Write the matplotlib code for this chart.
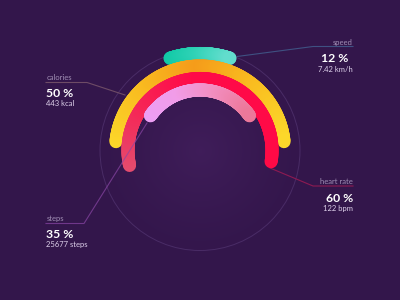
import numpy as np
import matplotlib.pyplot as plt
from matplotlib.collections import LineCollection
from matplotlib.colors import LinearSegmentedColormap, to_rgb

plt.rcParams['font.family'] = ['Lato', 'DejaVu Sans']

# données
labels = ['calories', 'speed', 'heart rate', 'steps']
percents = [50, 12, 60, 35]
details = ['443 kcal', '7.42 km/h', '122 bpm', '25677 steps']

# arcs : angle de début / fin (degrés) pour chaque mesure
arc_start = [174, 108, 192, 145]
arc_end = [6, 72, -9, 35]

# mise en page (pixels, y vers le bas)
cx, cy = 200, 150.5
radius = {'speed': 97, 'calories': 84.5, 'heart rate': 72, 'steps': 60.5}
grad = {'speed': ['#10c9a6', '#30d2b6', '#62ddcd'],
        'calories': ['#fcd82a', '#f9bd20', '#f59c1a', '#f9bd20', '#fcd82a'],
        'heart rate': ['#e44c6e', '#f62656', '#ff0a48', '#ff0a48', '#ff0a46'],
        'steps': ['#ec9ef4', '#f19ce8', '#f28ec0', '#ec789a']}
zord = {'speed': 3, 'calories': 4, 'heart rate': 5, 'steps': 6}

text_x = {'calories': 46.5, 'steps': 46.5, 'speed': 353, 'heart rate': 353}
text_y = {'calories': 79.5, 'speed': 44.5, 'heart rate': 184.5, 'steps': 220.5}
line_col = {'calories': '#6e4c66', 'speed': '#3f5182',
            'heart rate': '#8e1a52', 'steps': '#8a46a6'}
leader = {'calories': [(46, 82.5), (87, 82.5), (125, 95)],
          'speed': [(353, 46.5), (313, 46.5), (237, 56.5)],
          'heart rate': [(353, 186), (313, 186), (270, 168)],
          'steps': [(46, 223.5), (84, 223.5), (147, 123)]}

bg = '#33164b'

fig = plt.figure(figsize=(4, 3), dpi=100)
fig.patch.set_facecolor(bg)
ax = fig.add_axes([0, 0, 1, 1])
ax.set_xlim(0, 400)
ax.set_ylim(300, 0)
ax.axis('off')

# halo au centre
yy, xx = np.mgrid[0:300, 0:400]
d = np.hypot(xx - cx, yy - cy)
k = np.clip(1 - d / 115, 0, 1) ** 1.3 * 0.55
c0 = np.array(to_rgb(bg))
c1 = np.array(to_rgb('#4a2366'))
img = c0 + (c1 - c0) * k[..., None]
ax.imshow(img, extent=[0, 400, 300, 0], zorder=0)

ax.add_patch(plt.Circle((cx, cy), 100, fill=False, ec='#4a2c66', lw=0.7, zorder=1))


def arc(name, a0, a1):
    th = np.radians(np.linspace(a0, a1, 240))
    r = radius[name]
    pts = np.column_stack([cx + r * np.cos(th), cy - r * np.sin(th)])
    segs = np.stack([pts[:-1], pts[1:]], axis=1)
    cmap = LinearSegmentedColormap.from_list(name, grad[name])
    lc = LineCollection(segs, colors=cmap(np.linspace(0, 1, len(segs))),
                        linewidths=9.4, capstyle='round', zorder=zord[name])
    ax.add_collection(lc)


for i, name in enumerate(labels):
    arc(name, arc_start[i], arc_end[i])

for i, name in enumerate(labels):
    p = np.array(leader[name])
    z = 7 if name == 'steps' else 2
    a = 0.7 if name == 'steps' else 1
    ax.plot(p[:, 0], p[:, 1], color=line_col[name], lw=0.8, alpha=a, zorder=z,
            solid_joinstyle='round')

    ha = 'left' if text_x[name] < 200 else 'right'
    x = text_x[name]
    y = text_y[name]
    ax.text(x, y, name, ha=ha, va='baseline', fontsize=5.5, color='#a08eb4')
    xp = x - 5 if name == 'speed' else x
    ax.text(xp, y + 17.5, f'{percents[i]} %', ha=ha, va='baseline', fontsize=8.8,
            fontweight='bold', color='white')
    ax.text(x, y + 27, details[i], ha=ha, va='baseline', fontsize=5.5, color='#ddd0ea')

plt.savefig('out.png', dpi=100, facecolor=bg)
